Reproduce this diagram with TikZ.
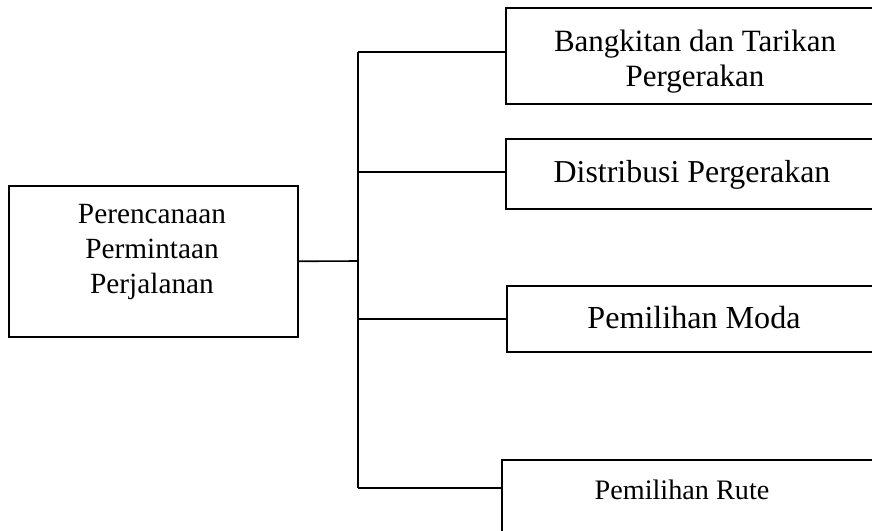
\documentclass[tikz,border=0pt]{standalone}
\usepackage{fontspec}
\setmainfont{Liberation Serif}
\begin{document}
\begin{tikzpicture}[x=1pt,y=-1pt,
  box/.style={draw, line width=1.6pt, rectangle, anchor=north west, inner sep=0pt},
  link/.style={line width=1.6pt},
  lbl/.style={align=center, inner sep=0pt}]
\useasboundingbox (0,0) rectangle (872,530);
\clip (0,0) rectangle (872,530);
% boxes
\node[box, minimum width=289pt, minimum height=151pt] (plan) at (8,185) {};
\node[box, minimum width=380pt, minimum height=96pt] (b1) at (505,7) {};
\node[box, minimum width=380pt, minimum height=70pt] (b2) at (505,138) {};
\node[box, minimum width=380pt, minimum height=66pt] (b3) at (506,285) {};
\node[box, minimum width=380pt, minimum height=90pt] (b4) at (501,459) {};
% texts
\node[lbl, font=\fontsize{29.3}{35}\selectfont] (t0) at (152,252) {Perencanaan\\Permintaan\\Perjalanan};
\node[lbl, font=\fontsize{31}{35}\selectfont] (t1) at (695,62) {Bangkitan dan Tarikan\\Pergerakan};
\node[lbl, font=\fontsize{31.9}{36}\selectfont] (t2) at (692,175) {Distribusi Pergerakan};
\node[lbl, font=\fontsize{32.1}{36}\selectfont] (t3) at (694,318) {Pemilihan Moda};
\node[lbl, font=\fontsize{28.2}{32}\selectfont] (t4) at (682,490) {Pemilihan Rute};
% trunk and branches
\coordinate (j1) at (358,52);
\coordinate (j2) at (358,172);
\coordinate (hub) at (358,261);
\coordinate (j3) at (358,319);
\coordinate (j4) at (358,488);
\draw[link] (plan.east) -- (hub);
\draw[link] (j1) -- (j4);
\draw[link] (j1) -- (j1 -| b1.west);
\draw[link] (j2) -- (j2 -| b2.west);
\draw[link] (j3) -- (j3 -| b3.west);
\draw[link] (j4) -- (j4 -| b4.west);
\end{tikzpicture}
\end{document}
